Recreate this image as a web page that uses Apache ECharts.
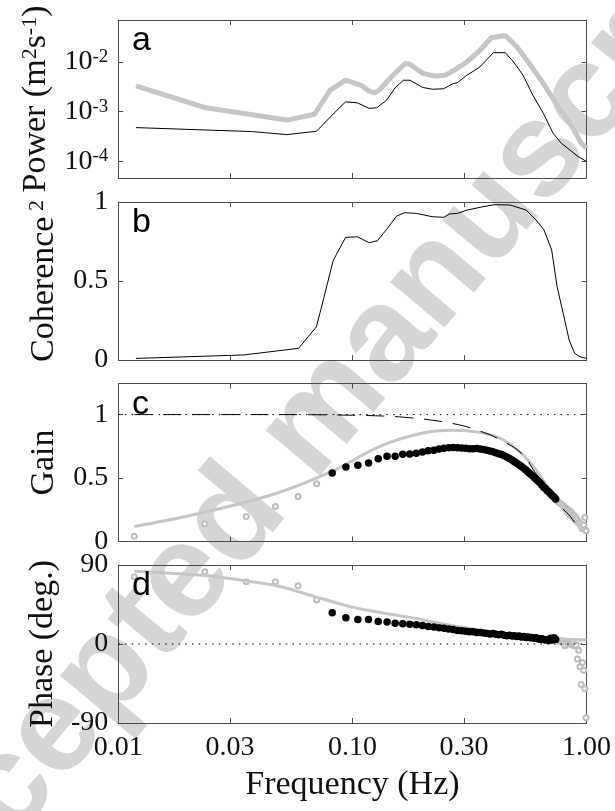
<!DOCTYPE html>
<html>
<head>
<meta charset="utf-8">
<script src="https://cdn.jsdelivr.net/npm/echarts@6/dist/echarts.min.js"></script>
<style>html,body{margin:0;padding:0;background:#fff}#c{width:615px;height:811px}</style>
</head>
<body>
<div id="c"></div>
<script>
// ---------------- data ----------------
const xTickVals = [0.01, 0.03, 0.1, 0.3, 1];
const powTickVals = [1e-4, 1e-3, 1e-2];
const cohTickVals = [0, 0.5, 1];
const gainTickVals = [0, 0.5, 1];
const phaseTickVals = [-90, 0, 90];

// panel a
const freqPowGray = [0.0119,0.0233,0.0525,0.0689,0.0802,0.0935,0.109,0.118,0.125,0.131,0.149,0.168,0.176,0.2,0.226,0.249,0.28,0.308,0.35,0.392,0.45,0.505,0.57,0.654,0.74,0.85,0.95,1.0];
const powGray = [3.3e-3,1.22e-3,6.8e-4,8.9e-4,2.7e-3,4.3e-3,3.4e-3,2.6e-3,2.4e-3,2.8e-3,5.4e-3,9.3e-3,9.0e-3,5.9e-3,5.2e-3,5.4e-3,7.4e-3,1.0e-2,1.7e-2,3.08e-2,3.4e-2,2.0e-2,9.3e-3,3.7e-3,1.47e-3,5.9e-4,2.33e-4,1.86e-4];
const freqPowBlack = [0.0119,0.0234,0.0371,0.0525,0.0702,0.0834,0.0935,0.105,0.118,0.127,0.140,0.152,0.165,0.176,0.20,0.22,0.245,0.27,0.28,0.308,0.35,0.40,0.45,0.488,0.536,0.59,0.654,0.72,0.78,0.85,0.92,1.0];
const powBlack = [4.8e-4,4.3e-4,4.0e-4,3.47e-4,4.05e-4,9.3e-4,1.58e-3,1.51e-3,1.17e-3,1.2e-3,1.71e-3,3.0e-3,4.3e-3,4.3e-3,3.07e-3,2.83e-3,2.9e-3,3.7e-3,3.8e-3,5.4e-3,7.9e-3,1.54e-2,1.54e-2,1.0e-2,5.4e-3,2.15e-3,9.3e-4,3.7e-4,2.33e-4,1.7e-4,1.26e-4,1.0e-4];

// panel b
const freqCoh = [0.0119,0.0344,0.0589,0.0702,0.0757,0.0828,0.0935,0.105,0.118,0.128,0.140,0.1546,0.167,0.188,0.219,0.246,0.259,0.281,0.309,0.361,0.405,0.472,0.552,0.609,0.658,0.71,0.749,0.795,0.843,0.89,0.94,1.0];
const coherence = [0.01,0.032,0.074,0.21,0.40,0.63,0.776,0.78,0.742,0.755,0.827,0.911,0.932,0.928,0.907,0.903,0.924,0.928,0.949,0.97,0.983,0.981,0.949,0.886,0.823,0.696,0.464,0.295,0.127,0.042,0.02,0.01];

// spectral estimate frequencies (Hz)
const freqLow = [0.0117,0.0234,0.0352,0.0469,0.0586,0.0703];
const freqMid = [0.0820,0.0938,0.1055,0.1172,0.1289,0.1406,0.1523,0.1641,0.1758,0.1875,0.1992,0.2109,0.2227,0.2344,0.2461,0.2578,0.2695,0.2813,0.2930,0.3047,0.3164,0.3281,0.3398,0.3516,0.3633,0.3750,0.3867,0.3984,0.4102,0.4219,0.4336,0.4453,0.4570,0.4688,0.4805,0.4922,0.5039,0.5156,0.5273,0.5391,0.5508,0.5625,0.5742,0.5859,0.5977,0.6094,0.6211,0.6328,0.6445,0.6563,0.6680,0.6797,0.6914,0.7031,0.7148,0.7266,0.7383];
const freqHigh = [0.750,0.762,0.773,0.785,0.797,0.809,0.820,0.832,0.844,0.856,0.867,0.879,0.891,0.902,0.914,0.926,0.938,0.949,0.961,0.973,0.984,0.996];

// panel c
const gainLow = [0.042,0.139,0.197,0.276,0.355,0.455];
const gainMid = [0.539,0.587,0.60,0.618,0.653,0.671,0.672,0.687,0.69,0.695,0.705,0.715,0.72,0.728,0.735,0.738,0.74,0.738,0.737,0.735,0.73,0.73,0.733,0.728,0.724,0.72,0.713,0.708,0.70,0.692,0.685,0.676,0.665,0.655,0.642,0.628,0.616,0.604,0.59,0.578,0.563,0.548,0.534,0.52,0.504,0.49,0.477,0.462,0.445,0.428,0.415,0.40,0.39,0.375,0.36,0.35,0.335];
const gainHigh = [0.32,0.31,0.30,0.29,0.28,0.27,0.26,0.25,0.245,0.235,0.225,0.21,0.20,0.185,0.17,0.15,0.14,0.12,0.10,0.13,0.19,0.085];
const freqGainFit = [0.0117,0.0234,0.0468,0.0834,0.131,0.2,0.27,0.35,0.414,0.47,0.52,0.57,0.61,0.66,0.72,0.77,0.82,0.88,0.935,0.97];
const gainFit = [0.118,0.231,0.376,0.56,0.75,0.855,0.876,0.86,0.824,0.77,0.705,0.63,0.56,0.47,0.376,0.3,0.218,0.16,0.113,0.09];
const freqGainModel = [0.0117,0.05,0.1,0.15,0.2,0.25,0.3,0.35,0.4,0.45,0.5,0.55,0.6,0.65,0.7,0.75,0.8,0.85,0.9,0.95];
const gainModel = [1.0,1.0,0.995,0.985,0.965,0.94,0.91,0.87,0.83,0.78,0.73,0.66,0.55,0.47,0.39,0.31,0.25,0.20,0.14,0.10];
const gainRef = 1;

// panel d
const phaseLow = [76.6,82.2,70.9,70.9,66.3,50];
const phaseMid = [35.6,30,28,28,25.5,25,23.5,23,22.5,22,21,20,19.5,18.5,18,17,16.5,15.5,15,14.5,14,14,13,13,12.5,12,11.5,12,11,10.5,11,10,9.5,10,9,9.5,8.5,9,8,8.5,7.5,8,7,7.5,6.5,7,6,5.5,6,5,4.5,5,4,6.5,4.5,7,5];
const phaseHigh = [5,3,4,2,1,-2,2,0,1,0.5,-1,1,-2,-1,-17,-7,-26,-46,-21,-30,-51,-84];
const freqPhaseFit = [0.0117,0.0234,0.037,0.05,0.069,0.1,0.131,0.182,0.253,0.351,0.488,0.677,1.0];
const phaseFit = [83,78,71,65,54,42,36,29.6,22,16,10.6,6.8,4.5];
const phaseRef = 0;

// ---------------- layout / style ----------------
const SERIF = '"Liberation Serif","Times New Roman",serif';
const SANS = '"Liberation Sans",Arial,sans-serif';
const TXT = '#111';
const FRAME = {color:'#4d4d4d', width:1};
const GRAY = '#c6c6c6';
const CIRC = '#bdbdbd';
const tops = [20, 202, 383.5, 565];
const H = 158, LEFT = 118.3, RIGHT = 28.5;
const TICK_FS = 28, NAME_FS = 34;
const zip = (xs, ys) => xs.map((x, i) => [x, ys[i]]);

const grids = tops.map(t => ({left: LEFT, right: RIGHT, top: t, height: H, containLabel: false}));

const xAxes = [];
for (let i = 0; i < 4; i++) {
  ['bottom','top'].forEach(pos => {
    const showLab = (pos === 'bottom' && i === 3);
    xAxes.push({
      type: 'log', logBase: 10, gridIndex: i, position: pos, min: 0.01, max: 1,
      axisLine: {show: true, onZero: false, lineStyle: FRAME},
      axisTick: {show: true, inside: true, length: 5, customValues: xTickVals, lineStyle: FRAME},
      axisLabel: {show: showLab, customValues: xTickVals, formatter: v => Number(v).toFixed(2),
        fontFamily: SERIF, fontSize: TICK_FS, color: TXT, margin: 11},
      splitLine: {show: false}, minorTick: {show: false}, minorSplitLine: {show: false},
      name: showLab ? 'Frequency (Hz)' : '', nameLocation: 'middle', nameGap: 45,
      nameTextStyle: {fontFamily: SERIF, fontSize: NAME_FS, color: TXT}
    });
  });
}

const yCfg = [
  {type: 'log', min: 4.66e-5, max: 0.0698, ticks: powTickVals,
   name: '{t|Power (m}{u|2}{t|s}{u|-1}{t|)}',
   fmt: v => '{b|10}{s|' + Math.round(Math.log10(v)) + '}'},
  {type: 'value', min: 0, max: 1, ticks: cohTickVals, name: '{t|Coherence}{u| 2}', fmt: v => String(v)},
  {type: 'value', min: 0, max: 1.245, ticks: gainTickVals, name: '{t|Gain}', fmt: v => String(v)},
  {type: 'value', min: -90, max: 90, ticks: phaseTickVals, name: '{t|Phase (deg.)}', fmt: v => String(v)}
];
const yAxes = [];
yCfg.forEach((c, i) => {
  ['left','right'].forEach(pos => {
    const main = pos === 'left';
    const ax = {
      type: c.type, gridIndex: i, position: pos, min: c.min, max: c.max,
      axisLine: {show: true, onZero: false, lineStyle: FRAME},
      axisTick: {show: true, inside: true, length: 5, customValues: c.ticks, lineStyle: FRAME},
      axisLabel: {show: main, customValues: c.ticks, formatter: c.fmt, fontFamily: SERIF, fontSize: TICK_FS,
        color: TXT, margin: 10,
        rich: {b: {fontFamily: SERIF, fontSize: TICK_FS, color: TXT},
               s: {fontFamily: SERIF, fontSize: 19, color: TXT, verticalAlign: 'top', padding: [0,0,10,0]}}},
      splitLine: {show: false}, minorTick: {show: false}, minorSplitLine: {show: false},
      name: main ? c.name : '', nameLocation: 'middle', nameGap: 57,
      nameTextStyle: {fontFamily: SERIF, fontSize: NAME_FS, color: TXT,
        rich: {t: {fontFamily: SERIF, fontSize: NAME_FS, color: TXT},
               u: {fontFamily: SERIF, fontSize: 22, color: TXT, verticalAlign: 'top', padding: [0,0,13,0]}}}
    };
    if (c.type === 'log') ax.logBase = 10;
    yAxes.push(ax);
  });
});

const X = i => i * 2;   // main x axis index of grid i
const Y = i => i * 2;   // main y axis index of grid i

const lineS = (i, data, color, width, type, z, smooth) => ({
  type: 'line', xAxisIndex: X(i), yAxisIndex: Y(i), data, showSymbol: false, symbol: 'none',
  smooth: smooth || false,
  lineStyle: {color, width, type: type || 'solid', opacity: 1}, z: z || 2, silent: true, animation: false, clip: true
});
const dotS = (i, data, filled, size, z) => ({
  type: 'scatter', xAxisIndex: X(i), yAxisIndex: Y(i), data,
  symbol: filled ? 'circle' : 'emptyCircle', symbolSize: size,
  itemStyle: filled ? {color: '#000', borderWidth: 0, opacity: 1} : {color: CIRC, borderColor: CIRC, borderWidth: 1.4, opacity: 1},
  z: z || 3, silent: true, animation: false
});

const series = [
  lineS(0, zip(freqPowGray, powGray), GRAY, 5, 'solid', 2),
  lineS(0, zip(freqPowBlack, powBlack), '#000', 1, 'solid', 3),
  lineS(1, zip(freqCoh, coherence), '#000', 1, 'solid', 3),
  dotS(2, zip(freqLow, gainLow), false, 5, 2),
  dotS(2, zip(freqHigh, gainHigh), false, 5, 2),
  lineS(2, zip(freqGainFit, gainFit), GRAY, 3, 'solid', 3, 0.35),
  dotS(2, zip(freqMid, gainMid), true, 7.5, 4),
  lineS(2, zip(freqGainModel, gainModel), '#000', 1, [18, 11], 5, 0.3),
  lineS(2, [[0.01, gainRef], [1, gainRef]], '#000', 1, [1.5, 5.2], 5),
  dotS(3, zip(freqLow, phaseLow), false, 5, 2),
  dotS(3, zip(freqHigh, phaseHigh), false, 5, 2),
  lineS(3, zip(freqPhaseFit, phaseFit), GRAY, 3, 'solid', 3, 0.35),
  dotS(3, zip(freqMid, phaseMid), true, 7.5, 4),
  lineS(3, [[0.01, phaseRef], [1, phaseRef]], '#000', 1, [1.5, 5.2], 5)
];

const letters = ['a','b','c','d'].map((l, i) => ({
  type: 'text', x: 132, y: tops[i] + 21, z: 100, silent: true,
  style: {text: l, font: '34px ' + SANS, fill: '#000', align: 'left', verticalAlign: 'middle'}
}));

const watermark = {
  type: 'text', x: 312, y: 428, rotation: 50 * Math.PI / 180, z: -100, silent: true,
  style: {text: 'Accepted manuscript', font: 'bold 134px ' + SANS, fill: '#d6d6d6', align: 'center', verticalAlign: 'middle'}
};

const chart = echarts.init(document.getElementById('c'), null, {renderer: 'canvas'});
chart.setOption({
  animation: false,
  backgroundColor: '#fff',
  grid: grids,
  xAxis: xAxes,
  yAxis: yAxes,
  series,
  graphic: [watermark].concat(letters)
});
</script>
</body>
</html>
